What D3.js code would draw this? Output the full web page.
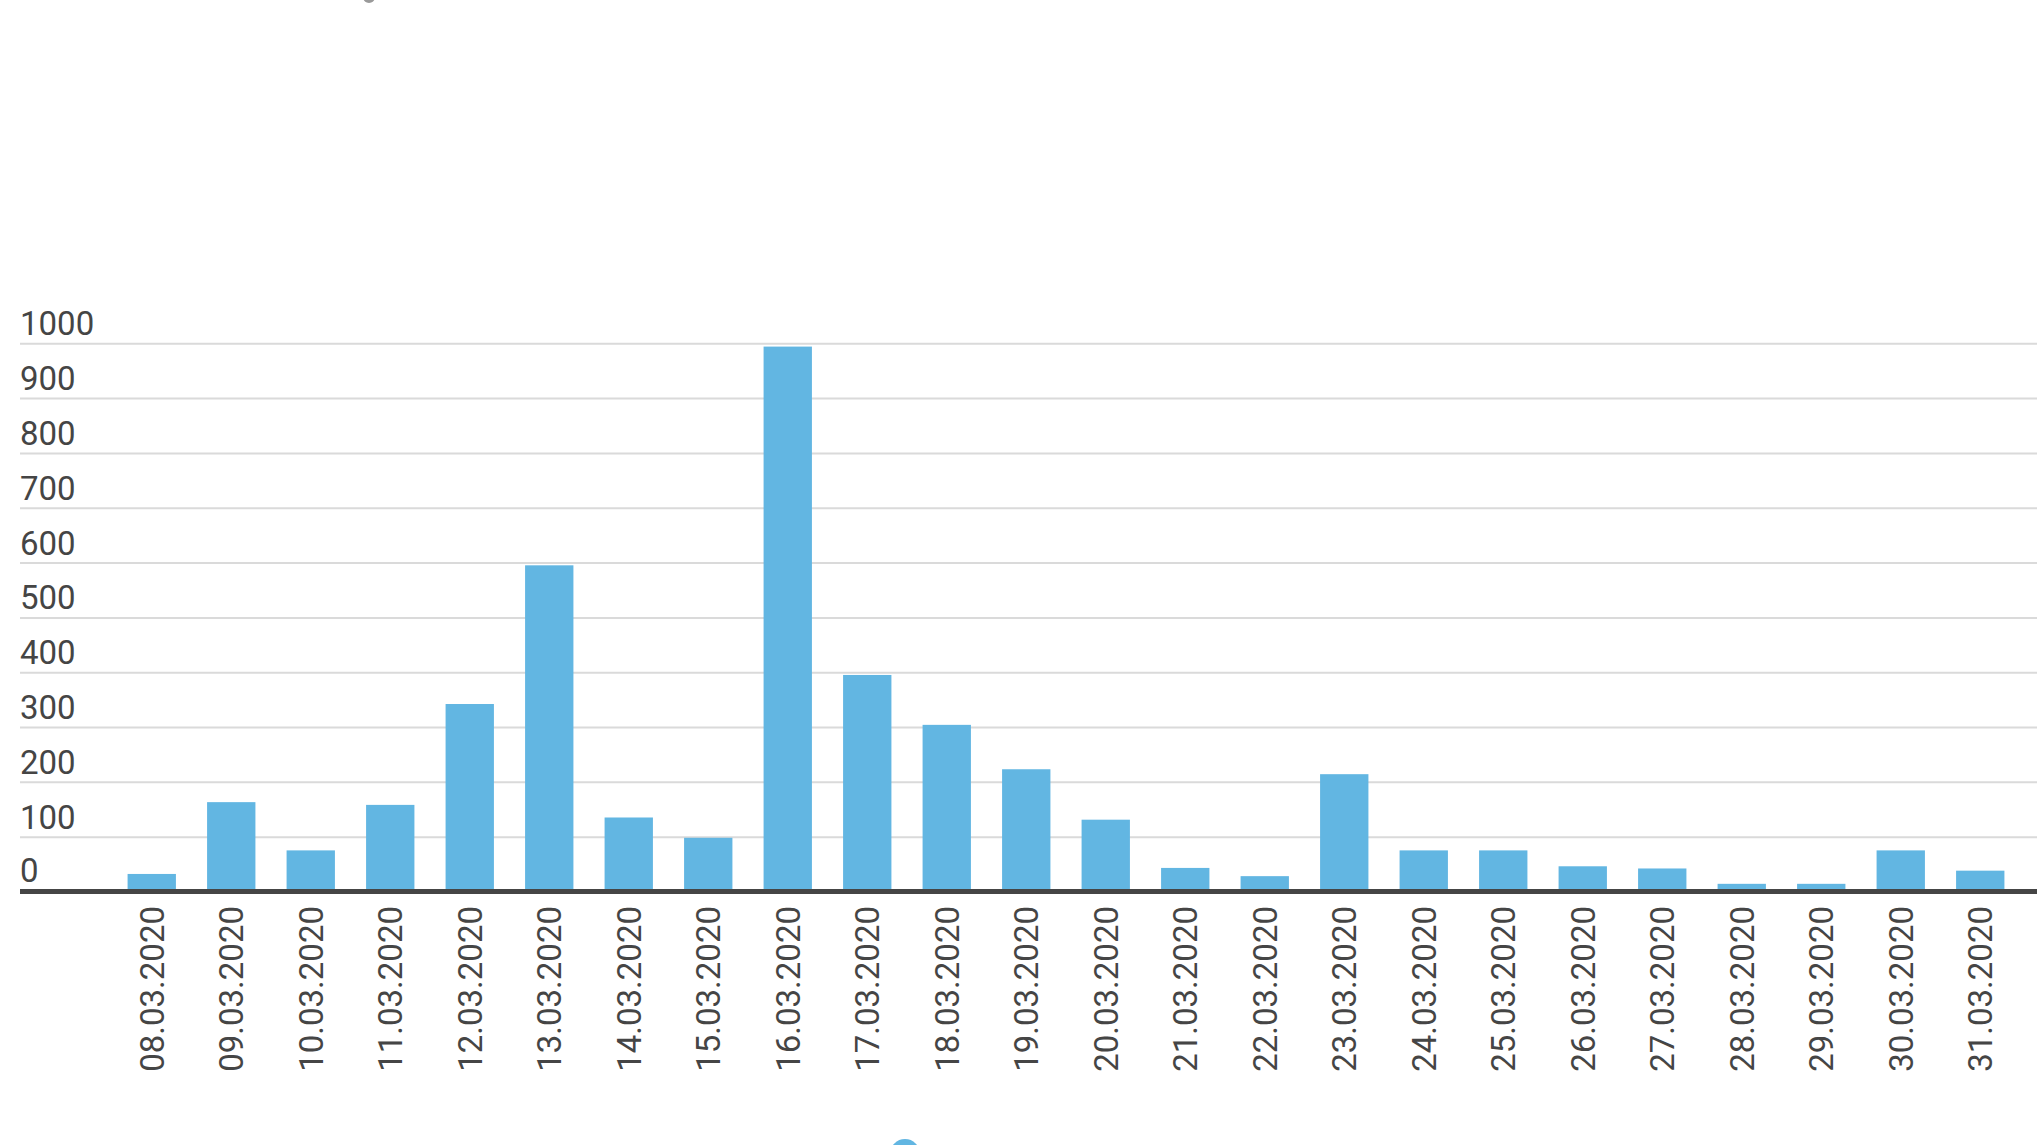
<!DOCTYPE html>
<html>
<head>
<meta charset="utf-8">
<script src="https://cdn.jsdelivr.net/npm/d3@7"></script>
<style>
  html, body { margin: 0; padding: 0; background: #ffffff; }
  svg { display: block; }
</style>
</head>
<body>
<script>
// ---- data ----
const categories = ["08.03.2020","09.03.2020","10.03.2020","11.03.2020","12.03.2020","13.03.2020",
  "14.03.2020","15.03.2020","16.03.2020","17.03.2020","18.03.2020","19.03.2020","20.03.2020",
  "21.03.2020","22.03.2020","23.03.2020","24.03.2020","25.03.2020","26.03.2020","27.03.2020",
  "28.03.2020","29.03.2020","30.03.2020","31.03.2020"];
const values = [32,163,75,158,342,595,135,98,994,395,304,223,131,43,28,214,75,75,46,42,14,14,75,38];
const yTicks = [0,100,200,300,400,500,600,700,800,900,1000];

// ---- layout ----
const W = 2037, H = 1145;
const barColor = "#62b6e2";
const textColor = "#454545";

const svg = d3.select("body").append("svg").attr("width", W).attr("height", H);

const x = d3.scaleBand().domain(categories).range([112, 2020])
  .paddingInner(0.392).paddingOuter(0.196);
const y = d3.scaleLinear().domain([0, 1000]).range([891.5, 343.3]);

// gridlines
const grid = svg.append("g")
  .attr("transform", "translate(20,0)")
  .call(d3.axisLeft(y).tickValues(yTicks.filter(d => d > 0)).tickSize(-(W - 20)).tickFormat(""));
grid.select(".domain").remove();
grid.selectAll(".tick line").attr("stroke", "#dadada").attr("stroke-width", 2);

// y labels
svg.append("g").selectAll("text").data(yTicks).join("text")
  .attr("x", 20)
  .attr("y", d => y(d) - (d === 0 ? 10 : 8))
  .attr("font-family", "Roboto, sans-serif")
  .attr("font-size", 33)
  .attr("fill", textColor)
  .text(d => d);

// bars
svg.append("g").selectAll("rect").data(values).join("rect")
  .attr("x", (d, i) => x(categories[i]))
  .attr("width", x.bandwidth())
  .attr("y", d => y(d))
  .attr("height", d => y(0) - y(d))
  .attr("fill", barColor);

// baseline (x axis)
const xAxis = svg.append("g")
  .attr("transform", `translate(0,${y(0)})`)
  .call(d3.axisBottom(x).tickSize(0).tickFormat(""));
xAxis.select(".domain").remove();
svg.append("line")
  .attr("x1", 20).attr("x2", W)
  .attr("y1", y(0)).attr("y2", y(0))
  .attr("stroke", "#454545").attr("stroke-width", 5);

// x labels
svg.append("g").selectAll("text").data(categories).join("text")
  .attr("transform", d => `translate(${x(d) + x.bandwidth() / 2 + 12},906) rotate(-90)`)
  .attr("text-anchor", "end")
  .attr("font-family", "Roboto, sans-serif")
  .attr("font-size", 33)
  .attr("fill", textColor)
  .text(d => d);

// legend marker (cut off at bottom)
svg.append("circle").attr("cx", 905).attr("cy", 1154).attr("r", 15).attr("fill", barColor);
// remnant of title at top (cut off)
svg.append("circle").attr("cx", 369).attr("cy", -3).attr("r", 6).attr("fill", "#9a9a9a");
</script>
</body>
</html>
